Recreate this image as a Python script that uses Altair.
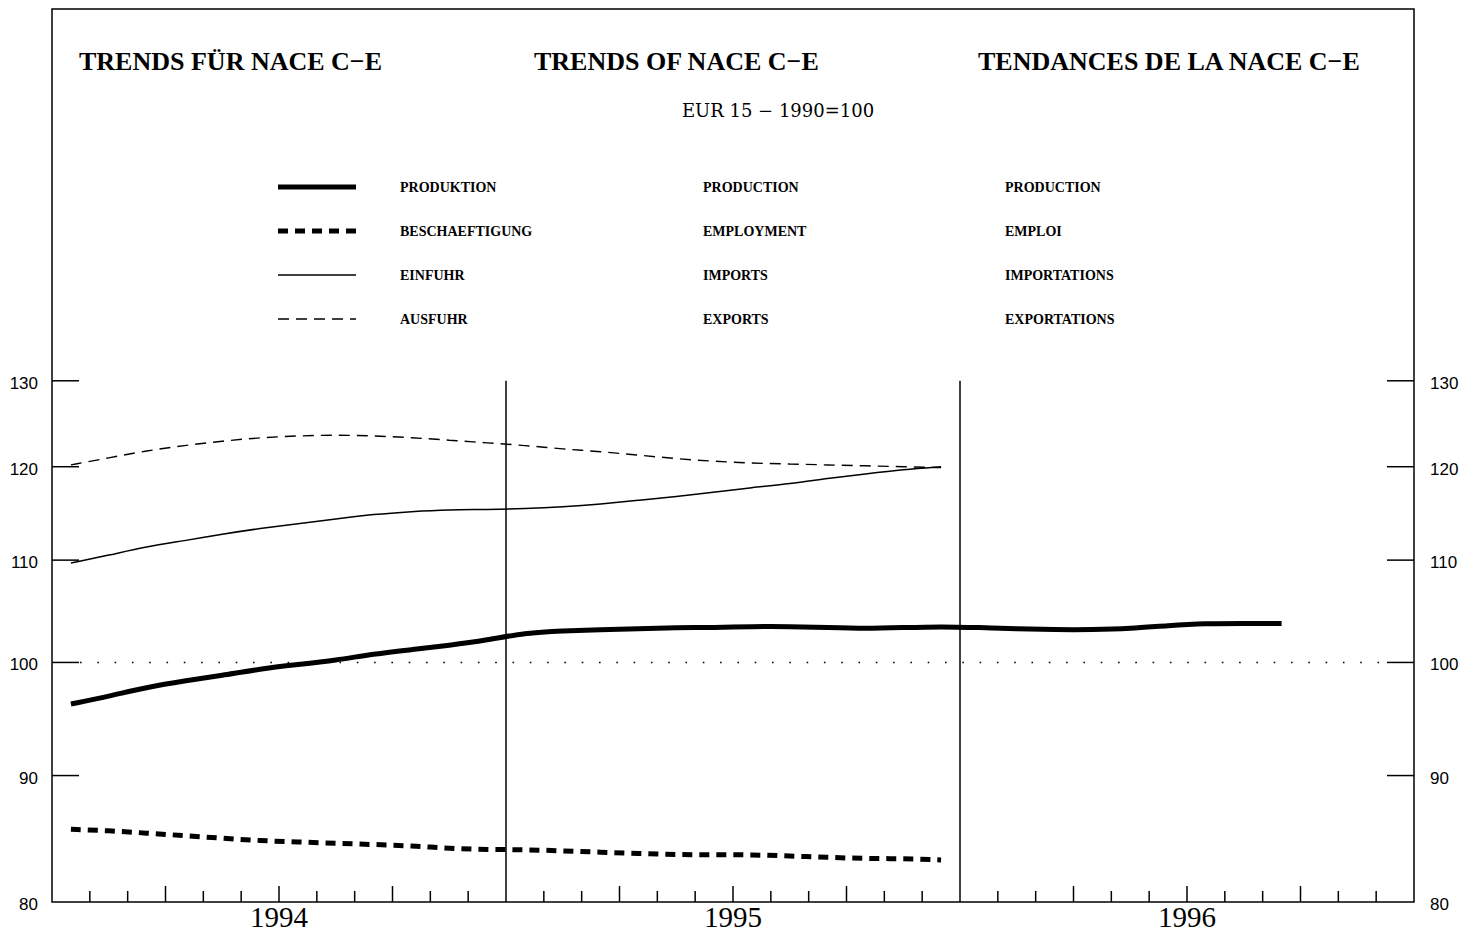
import altair as alt
import pandas as pd

# ---------------- data ----------------
years = [1994, 1995, 1996]
production = [96.2, 96.9, 97.7, 98.3, 98.8, 99.4, 99.8, 100.2, 100.8, 101.2, 101.6, 102.1,
              102.8, 103.0, 103.1, 103.2, 103.3, 103.3, 103.4, 103.4, 103.3, 103.2, 103.3, 103.4,
              103.3, 103.2, 103.1, 103.1, 103.2, 103.5, 103.7, 103.7, 103.7]
employment = [85.6, 85.5, 85.3, 85.1, 84.9, 84.7, 84.6, 84.5, 84.4, 84.3, 84.1, 84.0,
              84.0, 83.9, 83.8, 83.7, 83.6, 83.6, 83.6, 83.5, 83.4, 83.3, 83.3, 83.2]
imports = [109.7, 110.5, 111.4, 112.0, 112.7, 113.3, 113.8, 114.3, 114.8, 115.1, 115.3, 115.3,
           115.4, 115.6, 115.9, 116.3, 116.7, 117.2, 117.7, 118.1, 118.7, 119.2, 119.7, 120.0]
exports = [120.2, 121.0, 121.8, 122.4, 122.9, 123.3, 123.5, 123.6, 123.5, 123.3, 123.0, 122.7,
           122.4, 122.0, 121.7, 121.3, 120.9, 120.6, 120.4, 120.3, 120.2, 120.1, 120.0, 119.9]

y_ticks = [80, 90, 100, 110, 120, 130]
legend_de = ["PRODUKTION", "BESCHAEFTIGUNG", "EINFUHR", "AUSFUHR"]
legend_en = ["PRODUCTION", "EMPLOYMENT", "IMPORTS", "EXPORTS"]
legend_fr = ["PRODUCTION", "EMPLOI", "IMPORTATIONS", "EXPORTATIONS"]
titles = ["TRENDS FÜR NACE C−E", "TRENDS OF NACE C−E", "TENDANCES DE LA NACE C−E"]
subtitle = "EUR 15 − 1990=100"

# ---------------- layout ----------------
W, H = 1362, 893
xs = alt.Scale(domain=[0, 36], nice=False, zero=False)
ys = alt.Scale(type="log", domain=[80, 183.8], nice=False)

# series styles: (width, dash)
styles = {
    "prod": (5, None),
    "emp": (5, [10, 7]),
    "imp": (1.5, None),
    "exp": (1.4, [11, 7]),
}


def series_df(vals):
    rows = []
    for i, v in enumerate(vals):
        y = years[0] + i // 12
        m = i % 12 + 1
        rows.append({"month": f"{y}-{m:02d}", "t": i + 0.5, "v": v})
    return pd.DataFrame(rows)


X = lambda f="t": alt.X(f"{f}:Q", scale=xs, axis=None)
Y = lambda f="v": alt.Y(f"{f}:Q", scale=ys, axis=None)

layers = []

# data lines
for key, vals in [("exp", exports), ("imp", imports), ("emp", employment), ("prod", production)]:
    sw, dash = styles[key]
    kw = dict(color="black", strokeWidth=sw, interpolate="basis")
    if dash:
        kw["strokeDash"] = dash
    layers.append(alt.Chart(series_df(vals)).mark_line(**kw).encode(x=X(), y=Y()))

# y ticks (inward) left & right
tick_df = pd.DataFrame({"v": y_ticks[1:]})
layers.append(alt.Chart(tick_df).mark_rule(color="black", strokeWidth=1.5)
              .encode(y=Y(), x=alt.value(0), x2=alt.value(27)))
layers.append(alt.Chart(tick_df).mark_rule(color="black", strokeWidth=1.5)
              .encode(y=Y(), x=alt.value(W - 27), x2=alt.value(W)))

# y labels left & right
lab_df = pd.DataFrame({"v": y_ticks, "label": [str(v) for v in y_ticks]})
layers.append(alt.Chart(lab_df).mark_text(align="right", baseline="middle", dx=-14, dy=3,
                                          font="Liberation Sans", fontSize=17, color="black")
              .encode(y=Y(), x=alt.value(0), text="label:N"))
layers.append(alt.Chart(lab_df).mark_text(align="left", baseline="middle", dx=16, dy=3,
                                          font="Liberation Sans", fontSize=17, color="black")
              .encode(y=Y(), x=alt.value(W), text="label:N"))

# dotted reference line at 100
layers.append(alt.Chart(pd.DataFrame({"v": [100]}))
              .mark_rule(color="black", strokeWidth=1.6, strokeDash=[1.6, 15.7])
              .encode(y=Y(), x=alt.value(28), x2=alt.value(W - 27)))

# year separators
sep_df = pd.DataFrame({"t": [12, 24], "top": [130, 130], "bot": [80, 80]})
layers.append(alt.Chart(sep_df).mark_rule(color="black", strokeWidth=1.5)
              .encode(x=X(), y=Y("top"), y2="bot:Q"))

# month ticks (bottom, inward)
short_t = [m for m in range(1, 36) if m % 3 != 0]
long_t = [m for m in range(1, 36) if m % 3 == 0 and m % 12 != 0]
layers.append(alt.Chart(pd.DataFrame({"t": short_t})).mark_rule(color="black", strokeWidth=1.5)
              .encode(x=X(), y=alt.value(H), y2=alt.value(H - 11)))
layers.append(alt.Chart(pd.DataFrame({"t": long_t})).mark_rule(color="black", strokeWidth=1.5)
              .encode(x=X(), y=alt.value(H), y2=alt.value(H - 16)))

# year labels
yr_df = pd.DataFrame({"t": [6, 18, 30], "label": [str(y) for y in years]})
layers.append(alt.Chart(yr_df).mark_text(baseline="alphabetic", font="Liberation Serif",
                                         fontSize=29, color="black")
              .encode(x=X(), y=alt.value(H + 25), text="label:N"))

one = pd.DataFrame({"a": [0]})


def txt(s, x, y, **kw):
    return alt.Chart(one).mark_text(text=s, color="black", **kw).encode(x=alt.value(x), y=alt.value(y))


# titles
for s, x in zip(titles, [27, 482, 926]):
    layers.append(txt(s, x, 61, align="left", baseline="alphabetic", font="Liberation Serif",
                      fontSize=26, fontWeight="bold"))
layers.append(txt(subtitle, 726, 108, align="center", baseline="alphabetic",
                  font="DejaVu Serif", fontSize=18))

# legend
leg_y = [178, 222, 266, 310]
for key, y, de, en, fr in zip(["prod", "emp", "imp", "exp"], leg_y, legend_de, legend_en, legend_fr):
    sw, dash = styles[key]
    kw = dict(color="black", strokeWidth=sw)
    if dash:
        kw["strokeDash"] = dash
    layers.append(alt.Chart(one).mark_rule(**kw)
                  .encode(x=alt.value(226), x2=alt.value(304), y=alt.value(y)))
    for s, x in zip([de, en, fr], [348, 651, 953]):
        layers.append(txt(s, x, y + 1, align="left", baseline="middle", font="Liberation Serif",
                          fontSize=14, fontWeight="bold"))

chart = (
    alt.layer(*layers)
    .properties(width=W, height=H, autosize=alt.AutoSizeParams(type="none"),
                padding={"left": 44, "top": 1, "right": 48, "bottom": 32},
                background="white")
    .configure_view(stroke="black", strokeWidth=1.5)
)

chart.save("out.html", embed_options={"renderer": "svg", "actions": False})
